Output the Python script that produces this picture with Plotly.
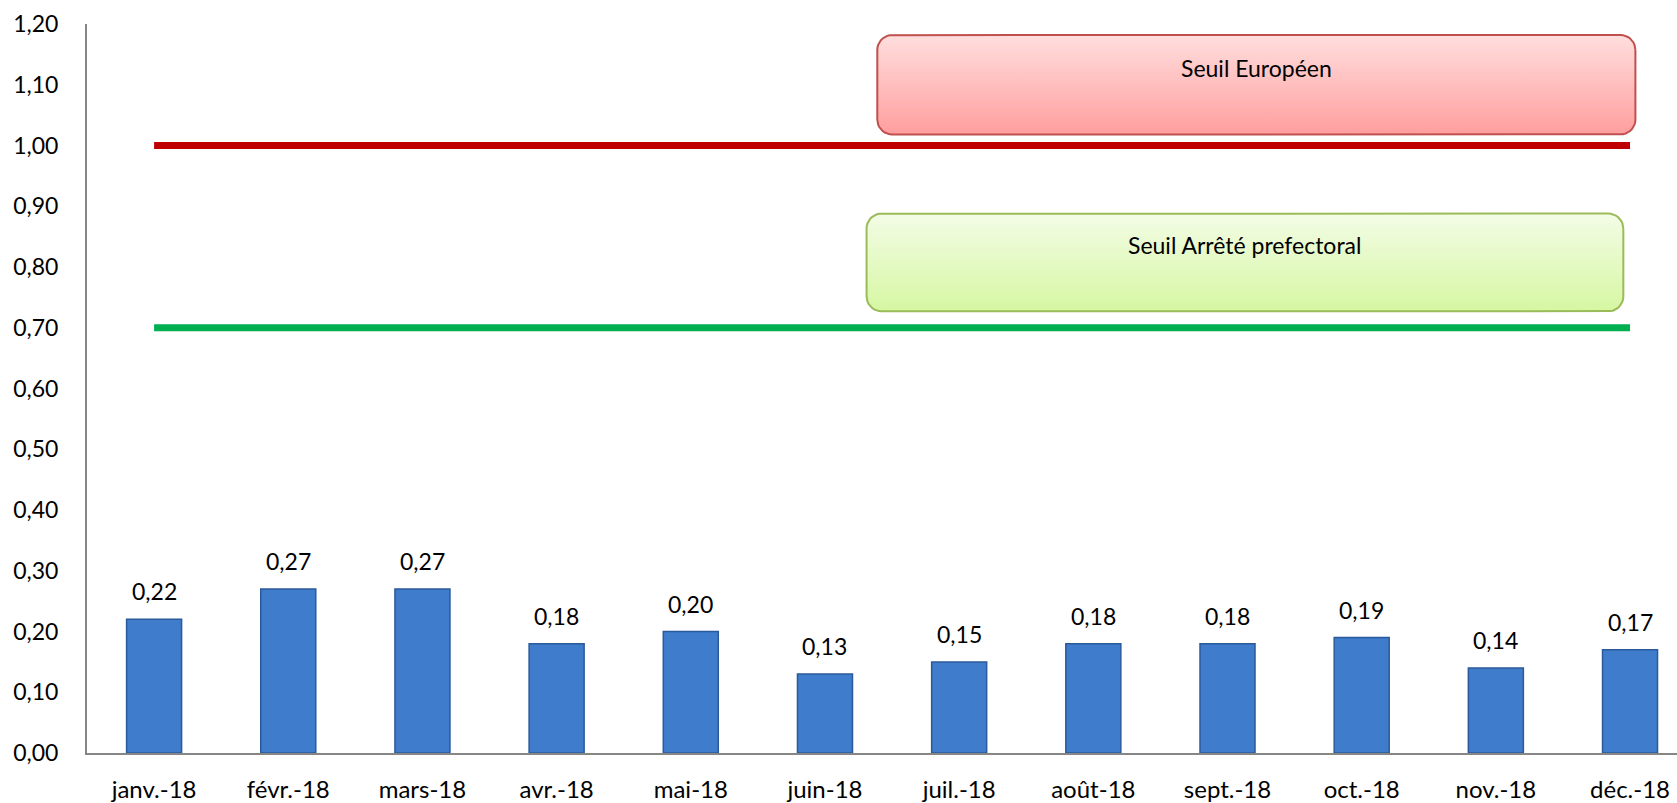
import numpy as np
import plotly.graph_objects as go

# --- Data ---
mois = ["janv.-18", "févr.-18", "mars-18", "avr.-18", "mai-18", "juin-18",
        "juil.-18", "août-18", "sept.-18", "oct.-18", "nov.-18", "déc.-18"]
valeurs = [0.22, 0.27, 0.27, 0.18, 0.20, 0.13, 0.15, 0.18, 0.18, 0.19, 0.14, 0.17]
seuil_europeen = [1.00, 1.00, 1.00, 1.00, 1.00, 1.00, 1.00, 1.00, 1.00, 1.00, 1.00, 1.00]
seuil_prefectoral = [0.70, 0.70, 0.70, 0.70, 0.70, 0.70, 0.70, 0.70, 0.70, 0.70, 0.70, 0.70]

FONT = "Lato"
X = list(range(len(mois)))

# pixel size of one unit on each axis (used to keep box corners round)
PX_X, PX_Y = 134.2, 609.0


def rounded_box(x0, x1, y0, y1, r=15):
    """Outline of a rounded rectangle in data coordinates."""
    rx, ry = r / PX_X, r / PX_Y
    t = np.linspace(0, np.pi / 2, 10)
    corners = [(x1 - rx, y1 - ry, 0), (x0 + rx, y1 - ry, 90),
               (x0 + rx, y0 + ry, 180), (x1 - rx, y0 + ry, 270)]
    xs, ys = [], []
    for cx, cy, a in corners:
        ang = np.radians(a) + t
        xs += list(cx + rx * np.cos(ang))
        ys += list(cy + ry * np.sin(ang))
    xs.append(xs[0])
    ys.append(ys[0])
    return xs, ys


fig = go.Figure()

# threshold boxes
boxes = [
    ((5.39, 11.04, 1.018, 1.182), "#FF9E9E", "#FFDEDE", "#C0504D", "Seuil Européen", 1.128),
    ((5.31, 10.95, 0.727, 0.888), "#D6F7A2", "#F3FCE6", "#9BBB59", "Seuil Arrêté prefectoral", 0.836),
]
for (x0, x1, y0, y1), c_bot, c_top, c_line, label, ty in boxes:
    bx, by = rounded_box(x0, x1, y0, y1)
    fig.add_trace(go.Scatter(
        x=bx, y=by, mode="lines", fill="toself",
        fillgradient=dict(type="vertical", colorscale=[[0, c_bot], [1, c_top]]),
        line=dict(color=c_line, width=2), hoverinfo="skip", showlegend=False,
    ))
    fig.add_annotation(x=(x0 + x1) / 2, y=ty, text=label, showarrow=False,
                       font=dict(family=FONT, size=23, color="#000000"))

# threshold lines
fig.add_trace(go.Scatter(x=X, y=seuil_europeen, mode="lines",
                         line=dict(color="#C00000", width=7), showlegend=False))
fig.add_trace(go.Scatter(x=X, y=seuil_prefectoral, mode="lines",
                         line=dict(color="#00B050", width=7), showlegend=False))

# monthly bars
fig.add_trace(go.Bar(
    x=X, y=valeurs, width=0.41,
    marker=dict(color="#3F7CCB", line=dict(color="#2B5A9A", width=1.5)),
    showlegend=False,
))

for i, v in enumerate(valeurs):
    fig.add_annotation(x=i, y=v, text=f"{v:.2f}".replace(".", ","), showarrow=False,
                       yshift=28, font=dict(family=FONT, size=23, color="#000000"))

fig.update_layout(
    width=1677, height=803,
    margin=dict(l=87, r=0, t=24, b=48),
    paper_bgcolor="white", plot_bgcolor="white",
    separators=", ",
    font=dict(family=FONT, size=23, color="#000000"),
    showlegend=False,
)
fig.update_xaxes(
    range=[-0.5, 11.35], tickvals=X, ticktext=mois, tickfont=dict(size=24),
    showline=True, linecolor="#868686", linewidth=2,
    showgrid=False, zeroline=False, ticks="", ticklabelstandoff=14,
)
fig.update_yaxes(
    range=[0, 1.2], dtick=0.1, tickformat=".2f",
    showline=True, linecolor="#868686", linewidth=2,
    showgrid=False, zeroline=False, ticks="", ticklabelstandoff=22,
)

# drop the browser's default body margin so the figure fills the window exactly
fig.write_html("out.html", config={"displayModeBar": False},
               post_script="document.body.style.margin='0';")
